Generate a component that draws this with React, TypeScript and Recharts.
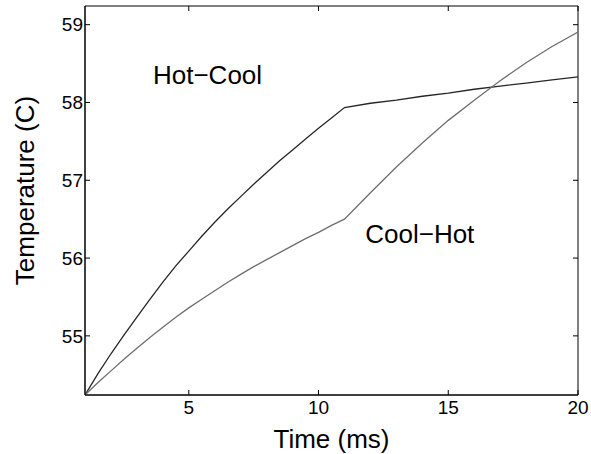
import { LineChart, Line, XAxis, YAxis, ReferenceDot, ReferenceArea } from 'recharts';

// sample times (ms) and temperatures (C)
const timeMs = [1, 1.5, 2, 2.5, 3, 3.5, 4, 4.5, 5, 5.5, 6, 6.5, 7, 7.5, 8, 8.5, 9, 9.5, 10, 10.5, 11, 12, 13, 14, 15, 16, 17, 18, 19, 20];
const hotCool = [54.24, 54.515, 54.77, 55.01, 55.24, 55.47, 55.69, 55.9, 56.09, 56.28, 56.46, 56.63, 56.79, 56.95, 57.1, 57.25, 57.39, 57.53, 57.67, 57.8, 57.935, 57.99, 58.03, 58.08, 58.12, 58.17, 58.21, 58.25, 58.29, 58.33];
const coolHot = [54.24, 54.4, 54.55, 54.7, 54.84, 54.98, 55.11, 55.24, 55.36, 55.47, 55.58, 55.69, 55.79, 55.89, 55.98, 56.07, 56.16, 56.25, 56.33, 56.42, 56.5, 56.84, 57.17, 57.48, 57.77, 58.03, 58.28, 58.51, 58.72, 58.905];

const xTicks = [5, 10, 15, 20];
const yTicks = [55, 56, 57, 58, 59];
const xDomain = [1, 20];
const yDomain = [54.24, 59.24];

// label anchors (data coords)
const hotCoolLabel = { t: 3.62, temp: 58.36, text: 'Hot\u2212Cool' };
const coolHotLabel = { t: 11.8, temp: 56.31, text: 'Cool\u2212Hot' };

const data = timeMs.map((t, i) => ({ t, hotCool: hotCool[i], coolHot: coolHot[i] }));

const FONT = '"Liberation Sans", Arial, Helvetica, sans-serif';
const W = 591;
const H = 454;
const margin = { top: 6, right: 13, left: 0, bottom: 0 };
const Y_AXIS_W = 85;
const X_AXIS_H = 59;
const plot = {
  left: margin.left + Y_AXIS_W,
  right: W - margin.right,
  top: margin.top,
  bottom: H - margin.bottom - X_AXIS_H,
};
const TICK = 5;

// matlab style: ticks point inward on all four sides
const XTick = ({ x, y, payload }: any) => (
  <g>
    <line x1={x} x2={x} y1={plot.bottom} y2={plot.bottom - TICK} stroke="#000" />
    <line x1={x} x2={x} y1={plot.top} y2={plot.top + TICK} stroke="#000" />
    <text x={x} y={y} dy="0.71em" textAnchor="middle" fill="#000" fontSize={19} fontFamily={FONT}>
      {payload.value}
    </text>
  </g>
);

const YTick = ({ x, y, payload }: any) => (
  <g>
    <line x1={plot.left} x2={plot.left + TICK} y1={y} y2={y} stroke="#000" />
    <line x1={plot.right} x2={plot.right - TICK} y1={y} y2={y} stroke="#000" />
    <text x={x} y={y} dy="0.355em" textAnchor="end" fill="#000" fontSize={19} fontFamily={FONT}>
      {payload.value}
    </text>
  </g>
);

export default function App() {
  return (
    <div style={{ position: 'absolute', left: 0, top: 0, background: '#fff' }}>
      <LineChart width={W} height={H} data={data} margin={margin} style={{ fontFamily: FONT }}>
        <XAxis
          dataKey="t"
          type="number"
          domain={xDomain}
          ticks={xTicks}
          allowDataOverflow
          height={X_AXIS_H}
          tickLine={false}
          tickSize={0}
          tickMargin={6}
          axisLine={{ stroke: '#000' }}
          tick={<XTick />}
          label={{ value: 'Time (ms)', position: 'insideBottom', offset: 6, fill: '#000', fontSize: 26, fontFamily: FONT }}
        />
        <YAxis
          type="number"
          domain={yDomain}
          ticks={yTicks}
          allowDataOverflow
          width={Y_AXIS_W}
          tickLine={false}
          tickSize={0}
          tickMargin={2}
          axisLine={{ stroke: '#000' }}
          tick={<YTick />}
          label={{ value: 'Temperature (C)', angle: -90, position: 'center', dx: -18, dy: -10, fill: '#000', fontSize: 26, fontFamily: FONT }}
        />
        {/* axes box */}
        <ReferenceArea x1={xDomain[0]} x2={xDomain[1]} y1={yDomain[0]} y2={yDomain[1]} fill="none" stroke="#000" strokeWidth={1} />

        <Line type="linear" dataKey="hotCool" stroke="#262626" strokeWidth={1.3} dot={false} isAnimationActive={false} />
        <Line type="linear" dataKey="coolHot" stroke="#6e6e6e" strokeWidth={1.3} dot={false} isAnimationActive={false} />

        <ReferenceDot x={hotCoolLabel.t} y={hotCoolLabel.temp} r={0} fill="none" stroke="none"
          label={{ value: hotCoolLabel.text, position: 'right', offset: 0, fill: '#000', fontSize: 26, fontFamily: FONT }} />
        <ReferenceDot x={coolHotLabel.t} y={coolHotLabel.temp} r={0} fill="none" stroke="none"
          label={{ value: coolHotLabel.text, position: 'right', offset: 0, fill: '#000', fontSize: 26, fontFamily: FONT }} />
      </LineChart>
    </div>
  );
}
